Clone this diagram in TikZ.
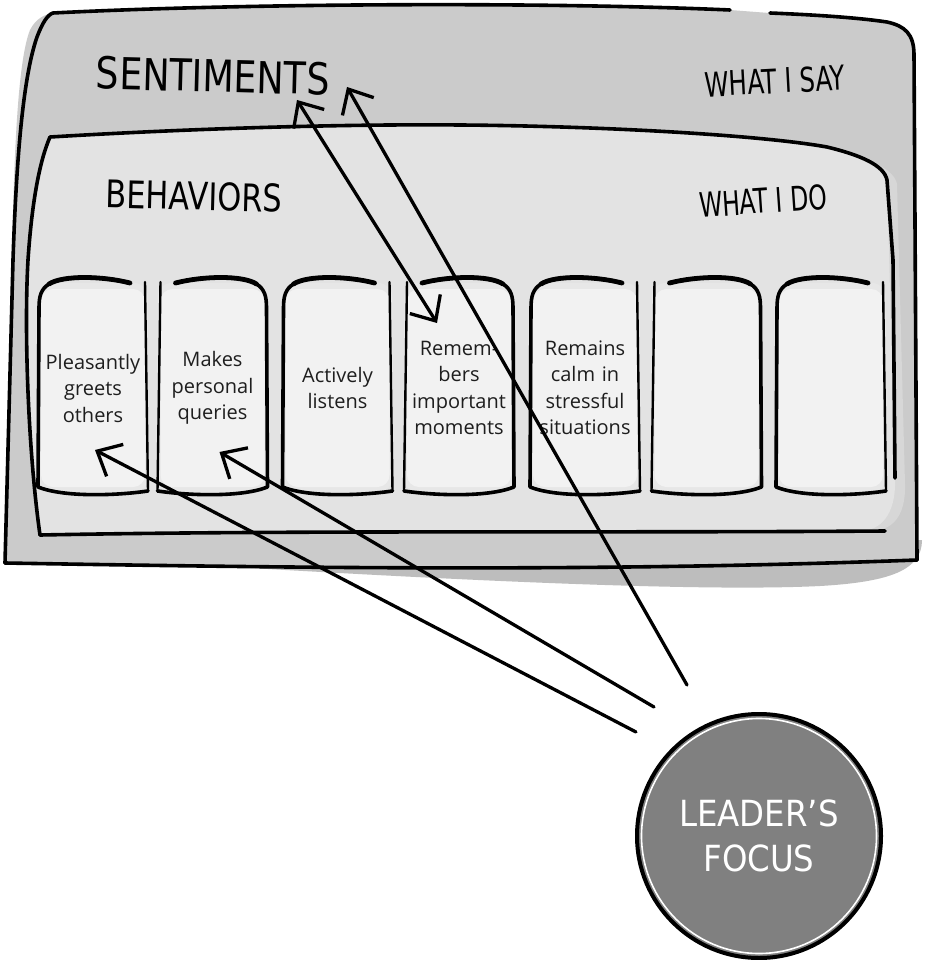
\documentclass[tikz,border=0pt]{standalone}
\usepackage{fontspec}
\usepackage{graphicx}
\setmainfont{Open Sans}
\newfontfamily\handfont{DejaVu Sans Condensed}
\usetikzlibrary{arrows.meta,calc}
\definecolor{outerfill}{HTML}{CBCBCB}
\definecolor{outershadow}{HTML}{BDBDBD}
\definecolor{innerfill}{HTML}{E3E3E3}
\definecolor{innershadow}{HTML}{D7D7D7}
\definecolor{cardfill}{HTML}{F2F2F2}
\definecolor{cardedge}{HTML}{E7E7E7}
\definecolor{focusfill}{HTML}{808080}
\definecolor{cardtext}{HTML}{1E1E1E}
\tikzset{
  ink/.style={line width=3.6pt, line cap=round, line join=round},
  brush/.style={line width=4.8pt, line cap=round},
  arrowink/.style={line width=3.3pt, line cap=round, line join=round},
  cardbox/.style={rectangle, rounded corners=12pt, minimum width=100pt, minimum height=198pt,
    fill=cardfill, text width=104pt, align=center, inner sep=0pt,
    font=\fontsize{20}{26.5}\selectfont, text=cardtext},
  hand/.style={inner sep=0pt, text=black},
  pointer/.style={arrowink, -{Straight Barb[length=20pt,width=36pt]}},
  twoway/.style={arrowink, {Straight Barb[length=20pt,width=36pt]}-{Straight Barb[length=20pt,width=36pt]}},
  focus/.style={circle, minimum size=244pt, inner sep=0pt, fill=focusfill, draw=black,
    line width=4pt, text=white, align=center, font=\handfont\fontsize{36}{45}\selectfont},
}
\begin{document}
\begin{tikzpicture}[x=1pt,y=-1pt]
\fill[white] (0,0) rectangle (925,960);
\useasboundingbox (0,0) rectangle (925,960);

% ---- outer frame (what I say)
\fill[outershadow] (200,565) .. controls (450,580) and (700,592) .. (820,586)
   .. controls (890,582) and (922,570) .. (922,540) -- (916,540) -- (916,562) -- cycle;
\fill[outerfill] (53,13) .. controls (250,3) and (550,2) .. (730,10) -- (887,22)
   .. controls (905,26) and (914,34) .. (914,55) -- (917,560)
   .. controls (600,572) and (300,568) .. (5,563) -- (12,260)
   .. controls (14,150) and (18,60) .. (30,30) .. controls (36,18) and (46,14) .. (53,13) -- cycle;
\draw[ink] (53,13) .. controls (250,3) and (550,2) .. (730,10);
\draw[ink] (770,13) .. controls (820,15) and (860,18) .. (887,22)
   .. controls (905,26) and (914,34) .. (914,55) -- (917,560);
\draw[ink] (917,560) .. controls (600,572) and (300,568) .. (5,563);
\draw[ink] (5,563) -- (13,260) .. controls (16,170) and (22,80) .. (37,37)
   .. controls (42,24) and (47,15) .. (53,13);

% ---- inner frame (what I do)
\begin{scope}[shift={(10,4)}]
\fill[innershadow] (50,137) .. controls (200,128) and (350,124) .. (460,125)
   .. controls (600,126) and (760,135) .. (827,147) .. controls (860,155) and (884,165) .. (887,180)
   -- (895,480) .. controls (896,515) and (880,527) .. (860,527) -- (40,531)
   .. controls (28,450) and (24,330) .. (28,260) .. controls (32,200) and (40,160) .. (50,137) -- cycle;
\end{scope}
\fill[innerfill] (50,137) .. controls (200,128) and (350,124) .. (460,125)
   .. controls (600,126) and (760,135) .. (827,147) .. controls (860,155) and (884,165) .. (887,180)
   -- (895,480) .. controls (896,515) and (880,531) .. (860,531) -- (40,535)
   .. controls (28,450) and (24,330) .. (28,260) .. controls (32,200) and (40,160) .. (50,137) -- cycle;
\draw[ink] (50,137) .. controls (200,128) and (350,124) .. (460,125)
   .. controls (600,126) and (760,135) .. (827,147) .. controls (860,155) and (884,165) .. (887,180)
   -- (893,260) -- (895,478);
\draw[ink] (50,137) .. controls (40,160) and (32,200) .. (28,260)
   .. controls (24,330) and (28,450) .. (40,535);
\draw[ink] (40,535) .. controls (300,530) and (600,533) .. (885,531);

% ---- titles
\node[hand, rotate=-1.5, font=\handfont\fontsize{44}{44}\selectfont] (sent) at (213,76) {\scalebox{0.92}[1]{SENTIMENTS}};
\node[hand, rotate=3, font=\handfont\fontsize{34}{34}\selectfont] (say) at (775,81) {\scalebox{0.8}[1]{WHAT I SAY}};
\node[hand, rotate=-1.5, font=\handfont\fontsize{38}{38}\selectfont] (beh) at (194,196) {\scalebox{0.89}[1]{BEHAVIORS}};
\node[hand, rotate=4, font=\handfont\fontsize{34}{34}\selectfont] (do) at (763,201) {\scalebox{0.77}[1]{WHAT I DO}};

% ---- cards
\foreach \cx in {93,212.5,337.5,459,585,706.5,831}
  \fill[cardedge, rounded corners=14pt] (\cx-55,283) rectangle (\cx+55,492);
\node[cardbox] (c1) at (93,388) {Pleasantly\\greets\\others};
\node[cardbox] (c2) at (212.5,388) {Makes\\personal\\queries};
\node[cardbox] (c3) at (337.5,388) {Actively\\listens};
\node[cardbox] (c4) at (459,388) {Remem-\\bers\\important\\moments};
\node[cardbox] (c5) at (585,388) {Remains\\calm in\\stressful\\situations};
\node[cardbox] (c6) at (706.5,388) {};
\node[cardbox] (c7) at (831,388) {};
\foreach \cx/\m in {93/1, 212.5/-1, 337.5/1, 459/-1, 585/1, 706.5/-1, 831/1} {
  \begin{scope}[shift={(\cx,388)}, xscale=\m]
    \draw[ink] (37,-105) .. controls (10,-112) and (-30,-113) .. (-44,-104)
       .. controls (-52,-99) and (-54,-92) .. (-54,-80) -- (-55,99)
       .. controls (-30,109) and (20,108) .. (55,103);
    \draw[brush] (37,-105) .. controls (10,-112) and (-30,-113) .. (-44,-104);
    \draw[ink, line width=2.4pt] (52,-106) -- (55,103);
  \end{scope}
}

% ---- leader's focus
\node[focus] (focus) at (759,836) {LEADER’S\\FOCUS};
\draw[white, line width=1.6pt] (focus.center) circle[radius=117.5pt];

% ---- connectors
\coordinate (pgTip) at ($(c1)+(2,62)$);
\coordinate (mpTip) at ($(c2)+(7,64)$);
\coordinate (remTip) at ($(c4)+(-22,-65)$);
\coordinate (sentTipA) at ($(sent)+(84,24)$);
\coordinate (sentTipB) at ($(sent)+(134,11)$);
\coordinate (fromA) at ($(focus)+(-123,-104)$);
\coordinate (fromB) at ($(focus)+(-105,-129)$);
\coordinate (fromC) at ($(focus)+(-72,-151)$);
\draw[pointer] (fromA) -- (pgTip);
\draw[pointer] (fromB) -- (mpTip);
\draw[pointer] (fromC) -- (sentTipB);
\draw[twoway] (sentTipA) -- (remTip);
\end{tikzpicture}
\end{document}
